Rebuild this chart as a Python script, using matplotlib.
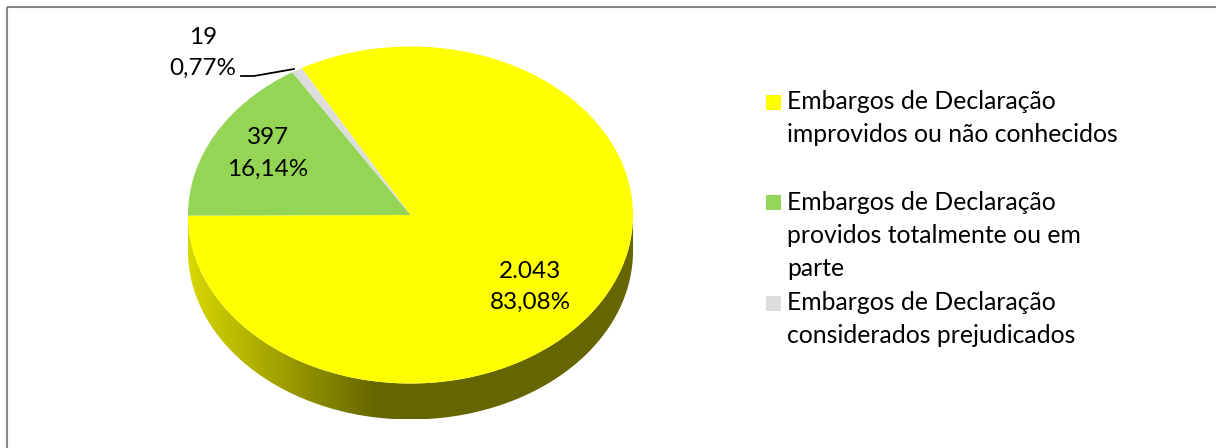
import numpy as np
import matplotlib
matplotlib.use("Agg")
import matplotlib.pyplot as plt
from matplotlib.patches import Polygon, Rectangle, Wedge
from matplotlib.legend_handler import HandlerPatch

plt.rcParams['font.family'] = ['Lato', 'DejaVu Sans']

categories = ["Embargos de Declaração\nimprovidos ou não conhecidos\n",
              "Embargos de Declaração\nprovidos totalmente ou em\nparte",
              "Embargos de Declaração\nconsiderados prejudicados\n"]
values = [2043, 397, 19]
value_labels = ["2.043", "397", "19"]
pct_labels = ["83,08%", "16,14%", "0,77%"]
colors = ["#FFFF00", "#95D555", "#DDDDDD"]

W, H = 1216, 448
fig = plt.figure(figsize=(W / 100, H / 100), dpi=100, facecolor="white")

# full-figure axes in pixel coordinates
bg = fig.add_axes([0, 0, 1, 1])
bg.set_xlim(0, W)
bg.set_ylim(H, 0)
bg.axis("off")

# chart border: only top and left fall inside the picture
bg.add_patch(Rectangle((7, 7), 1300, 500, fill=False, edgecolor="#868686", linewidth=1.5))

# pie geometry (pixels)
cx, cy, rx, ry, depth = 410.5, 215, 222.5, 168.5, 36

# side wall with gradient
t = np.linspace(0, np.pi, 300)
lower = np.column_stack([cx - rx * np.cos(t), cy + ry * np.sin(t)])
upper = lower[::-1] + np.array([0, depth])
wall = Polygon(np.vstack([lower, upper]), closed=True, transform=bg.transData,
               facecolor="none", edgecolor="none")
bg.add_patch(wall)
g0 = np.array([0xD8, 0xD8, 0x00]) / 255
g1 = np.array([0x66, 0x66, 0x00]) / 255
frac = np.clip(np.linspace(0, 1, 445) / 0.42, 0, 1)[None, :, None]
grad = g0[None, None, :] * (1 - frac) + g1[None, None, :] * frac
im = bg.imshow(grad, extent=(cx - rx, cx + rx, cy + ry + depth, cy), aspect="auto", zorder=1)
im.set_clip_path(wall)
bg.set_xlim(0, W)
bg.set_ylim(H, 0)

# pie face
ax = fig.add_axes([(cx - rx) / W, 1 - (cy + ry) / H, 2 * rx / W, 2 * ry / H], zorder=2)
wedges, _ = ax.pie(values, colors=colors, startangle=119.3, counterclock=False, radius=1,
                   wedgeprops=dict(linewidth=0))
ax.set_xlim(-1, 1)
ax.set_ylim(-1, 1)
ax.set_aspect("auto")
ax.patch.set_alpha(0)

# text overlay
top = fig.add_axes([0, 0, 1, 1], zorder=3)
top.set_xlim(0, W)
top.set_ylim(H, 0)
top.axis("off")
FS = 17.5
LEG_FS = 17.85
label_pos = [(530, 287), (268, 153.5), (203, 53)]
for (x, y), v, p in zip(label_pos, value_labels, pct_labels):
    top.text(x, y, f"{v}\n{p}", ha="center", va="center", fontsize=FS, color="black", linespacing=1.6)
top.plot([241, 254, 294], [76, 76, 69], color="black", lw=1.3)


def square(legend, orig_handle, xdescent, ydescent, width, height, fontsize):
    return Rectangle((-xdescent, -ydescent + 23.76 + 0.5 * height - 5.4), 10.8, 10.8)


leg = top.legend(wedges, categories, loc="upper left",
                 bbox_to_anchor=(766 / W, 1 - 90 / H), bbox_transform=fig.transFigure,
                 frameon=False, borderpad=0, borderaxespad=0, fontsize=LEG_FS,
                 labelspacing=0.46, handlelength=0.61, handletextpad=0.25,
                 handler_map={Wedge: HandlerPatch(patch_func=square)})
for txt in leg.get_texts():
    txt.set_linespacing(1.53)

fig.savefig("out.png", dpi=100)
